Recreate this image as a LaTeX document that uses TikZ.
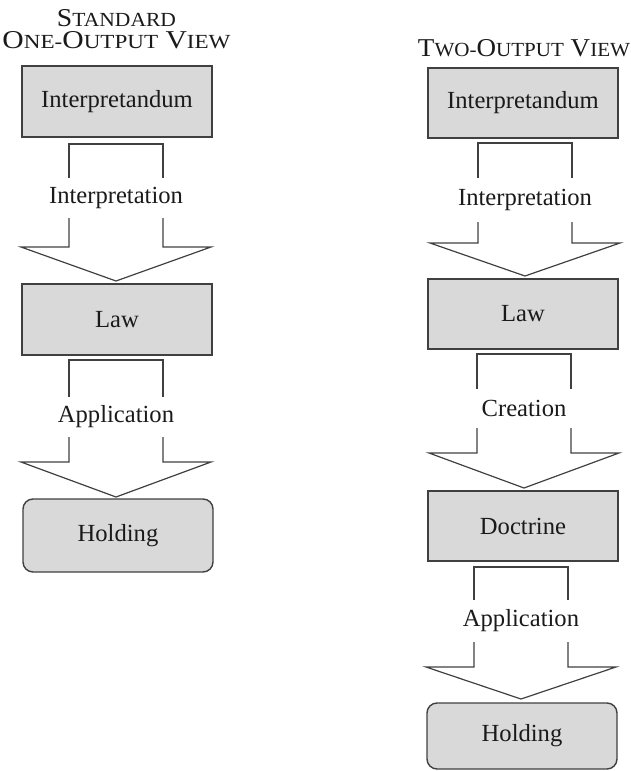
\documentclass[tikz,border=0pt]{standalone}
\usepackage{fontspec}
\usepackage{graphicx}
\setmainfont{Liberation Serif}
\definecolor{boxfill}{HTML}{D9D9D9}
\definecolor{edge}{HTML}{404040}
\definecolor{ink}{HTML}{1A1A1A}
\newcommand\capbig[1]{{\fontsize{12.85}{14}\selectfont #1}}
\newcommand\capsmall[1]{{\fontsize{10}{12}\selectfont #1}}
\newcommand\blockarr[8]{%
  \node[lbl] (#1) at (#3,{(#5+#6)/2}) {#2};
  \draw[arr] (#3-47,#5) -- (#3-47,#4) -- (#3+47,#4) -- (#3+47,#5);
  \draw[arr] (#3-47,#6) -- (#3-47,#7) -- (#3-95,#7) -- (#3,#8) -- (#3+95,#7) -- (#3+47,#7) -- (#3+47,#6);
}
\begin{document}
\begin{tikzpicture}[x=0.5pt,y=-0.5pt,
  every node/.style={text=ink},
  box/.style={draw=edge, line width=0.7pt, fill=boxfill, minimum width=95pt, inner sep=0pt, font=\fontsize{12.3}{14}\selectfont},
  rbox/.style={box, rounded corners=5pt},
  lbl/.style={inner sep=0pt, font=\fontsize{12.3}{14}\selectfont},
  arr/.style={draw=edge, line width=0.6pt, line join=miter},
  title/.style={inner sep=0pt, align=center, font=\fontsize{12.85}{10.8}\selectfont}]
\useasboundingbox (0,0) rectangle (631,771);
% titles
\node[title, anchor=north] (t1) at (116.5,9.3) {\resizebox{59.5pt}{\height}{\capbig{S}\capsmall{TANDARD}}\\
  \resizebox{114pt}{\height}{\capbig{O}\capsmall{NE-}\capbig{O}\capsmall{UTPUT} \capbig{V}\capsmall{IEW}}};
\node[title, anchor=base] (t2) at (524,56.7) {\resizebox{106pt}{\height}{\capbig{T}\capsmall{WO-}\capbig{O}\capsmall{UTPUT} \capbig{V}\capsmall{IEW}}};
% left column
\node[box, minimum height=35.5pt] (l1) at (117,101.5) {Interpretandum};
\node[box, minimum height=35.5pt] (l2) at (117,319.5) {Law};
\node[rbox, minimum height=36.5pt] (l3) at (118,535.5) {Holding};
\blockarr{la1}{Interpretation}{116}{144}{178}{218}{247}{281}
\blockarr{la2}{Application}{116}{360}{397}{437}{462}{497}
% right column
\node[box, minimum height=35pt] (r1) at (523,103) {Interpretandum};
\node[box, minimum height=35pt] (r2) at (523,314) {Law};
\node[box, minimum height=35pt] (r3) at (523,526) {Doctrine};
\node[rbox, minimum height=33pt] (r4) at (522,736) {Holding};
\blockarr{ra1}{Interpretation}{525}{143}{178}{222}{243}{276}
\blockarr{ra2}{Creation}{524}{354}{389}{428}{453}{488}
\blockarr{ra3}{Application}{521}{567}{600}{642}{667}{699}
\end{tikzpicture}
\end{document}
